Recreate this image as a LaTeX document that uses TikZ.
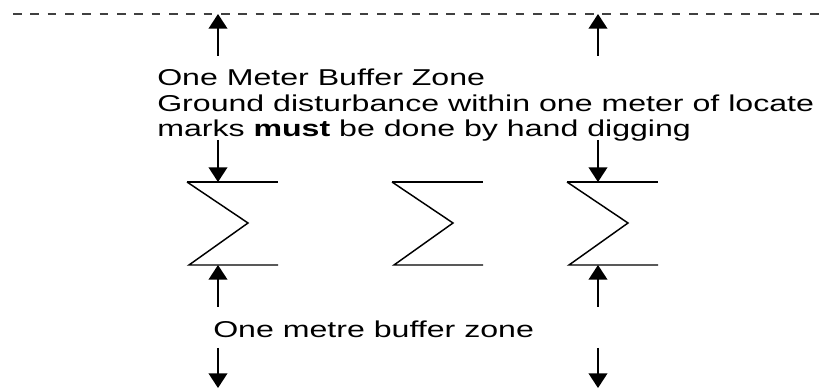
\documentclass[tikz,border=0pt]{standalone}
\usepackage{fontspec}
\setmainfont{Liberation Sans}[FakeStretch=1.4]
\usetikzlibrary{arrows.meta}

\tikzset{
  zonearrow/.style={-{Triangle[length=11pt,width=14pt]},line width=1.4pt},
  zonetext/.style={inner sep=0pt,anchor=base west,font=\fontsize{17.2pt}{21pt}\selectfont},
  locmark/.style={line width=1.1pt,line join=miter},
}

\begin{document}
\begin{tikzpicture}[x=0.75pt,y=-0.75pt]
\useasboundingbox (0,0) rectangle (822,388);
% edge of the buffer zone
\draw[dash pattern=on 6.5pt off 6.5pt,line width=1.4pt,black!75] (13,14) -- (822,14);
% locate marks
\foreach \x in {187,392,567} {
  \draw[line width=1.6pt] (\x,182) -- ++(91,0);
  \draw[locmark] (\x,182) -- ++(61,41) -- ++(-59,42) -- ++(89,0);
}
% arrow ends
\coordinate (edgeL) at (218,14);  \coordinate (edgeR) at (598,14);
\coordinate (upL) at (218,56);    \coordinate (upR) at (598,56);
\coordinate (dnL) at (218,140);   \coordinate (dnR) at (598,140);
\coordinate (topL) at (218,182);  \coordinate (topR) at (598,182);
\coordinate (botL) at (218,265);  \coordinate (botR) at (598,265);
\coordinate (lowL) at (218,307);  \coordinate (lowR) at (598,307);
\coordinate (sL) at (218,348);    \coordinate (sR) at (598,348);
\coordinate (endL) at (218,388);  \coordinate (endR) at (598,388);
\draw[zonearrow] (upL) -- (edgeL);
\draw[zonearrow] (upR) -- (edgeR);
\draw[zonearrow] (dnL) -- (topL);
\draw[zonearrow] (dnR) -- (topR);
\draw[zonearrow] (lowL) -- (botL);
\draw[zonearrow] (lowR) -- (botR);
\draw[zonearrow] (sL) -- (endL);
\draw[zonearrow] (sR) -- (endR);
% labels
\node[zonetext] (title) at (157,86) {One Meter Buffer Zone};
\node[zonetext] (rule1) at (157,111.5) {Ground disturbance within one meter of locate};
\node[zonetext] (rule2) at (157,137) {marks \textbf{must} be done by hand digging};
\node[zonetext] (metre) at (213,338) {One metre buffer zone};
\end{tikzpicture}
\end{document}
